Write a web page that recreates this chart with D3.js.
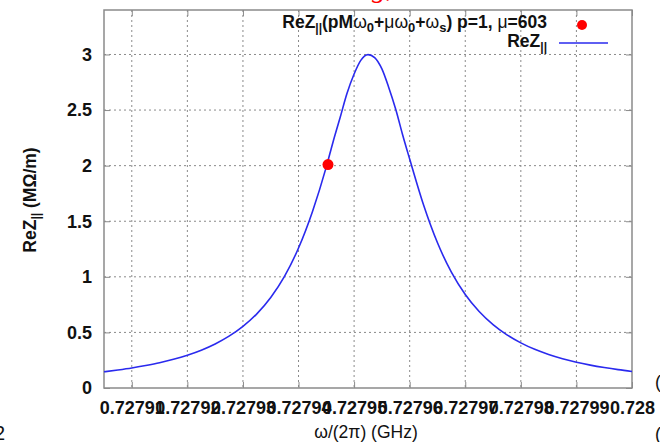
<html>
<head>
<script src="https://d3js.org/d3.v7.min.js"></script>
<style>
body { margin: 0; background: #fff; }
text { font-family: "Liberation Sans", Arial, sans-serif; }
.grid line { stroke: #8a8a8a; stroke-width: 1; stroke-dasharray: 2,3; }
</style>
</head>
<body>
<svg id="chart" width="660" height="442"></svg>
<script>
// values
const freqs = [0.727905, 0.7279075, 0.72791, 0.7279125, 0.727915, 0.7279175, 0.72792, 0.7279225,
  0.727925, 0.7279275, 0.72793, 0.7279325, 0.727935, 0.7279375, 0.72794, 0.7279425, 0.727945,
  0.7279462, 0.7279475, 0.7279487, 0.72795, 0.7279512, 0.7279525, 0.7279537, 0.727955, 0.7279562,
  0.7279575, 0.7279587, 0.72796, 0.7279625, 0.727965, 0.7279675, 0.72797, 0.7279725, 0.727975,
  0.7279775, 0.72798, 0.7279825, 0.727985, 0.7279875, 0.72799, 0.7279925, 0.727995, 0.7279975, 0.728];
const reZ = [0.146, 0.162, 0.180, 0.202, 0.227, 0.258, 0.295, 0.340,
  0.396, 0.466, 0.554, 0.667, 0.814, 1.006, 1.259, 1.586, 1.989,
  2.211, 2.435, 2.646, 2.824, 2.947, 2.999, 2.972, 2.870, 2.708,
  2.505, 2.283, 2.059, 1.646, 1.306, 1.042, 0.841, 0.688, 0.570,
  0.478, 0.406, 0.348, 0.302, 0.264, 0.232, 0.206, 0.184, 0.165, 0.149];
const pointFreq = [0.7279453];
const pointReZ = [2.01];

const xTicks = [0.72791, 0.72792, 0.72793, 0.72794, 0.72795, 0.72796, 0.72797, 0.72798, 0.72799, 0.728];
const xTickLabels = ["0.72791", "0.72792", "0.72793", "0.72794", "0.72795", "0.72796", "0.72797", "0.72798", "0.72799", "0.728"];
const yTicks = [0, 0.5, 1, 1.5, 2, 2.5, 3];
const yTickLabels = ["0", "0.5", "1", "1.5", "2", "2.5", "3"];

const svg = d3.select("#chart");
const margin = {top: 10, right: 28, bottom: 54, left: 104};
const width = 660 - margin.left - margin.right;
const height = 442 - margin.top - margin.bottom;

const x = d3.scaleLinear().domain([0.727905, 0.728]).range([0, width]);
const y = d3.scaleLinear().domain([0, 3.4]).range([height, 0]);

const g = svg.append("g").attr("transform", `translate(${margin.left},${margin.top})`);

// gridlines
g.append("g").attr("class", "grid")
  .selectAll("line").data(xTicks.filter(d => d < 0.728)).join("line")
  .attr("x1", d => x(d)).attr("x2", d => x(d))
  .attr("y1", 0).attr("y2", height);
g.append("g").attr("class", "grid")
  .selectAll("line").data(yTicks.filter(d => d > 0)).join("line")
  .attr("x1", 0).attr("x2", width)
  .attr("y1", d => y(d)).attr("y2", d => y(d));

// axes: inward ticks, mirrored
const tickColor = "#8a8a8a";
const bottomAxis = d3.axisBottom(x).tickValues(xTicks).tickSize(-6).tickFormat((d, i) => xTickLabels[i]);
const topAxis = d3.axisTop(x).tickValues(xTicks).tickSize(-6).tickFormat("");
const leftAxis = d3.axisLeft(y).tickValues(yTicks).tickSize(-6).tickFormat((d, i) => yTickLabels[i]);
const rightAxis = d3.axisRight(y).tickValues(yTicks).tickSize(-6).tickFormat("");

const bx = g.append("g").attr("transform", `translate(0,${height})`).call(bottomAxis);
const tx = g.append("g").call(topAxis);
const ly = g.append("g").call(leftAxis);
const ry = g.append("g").attr("transform", `translate(${width},0)`).call(rightAxis);
[bx, tx, ly, ry].forEach(a => {
  a.select(".domain").remove();
  a.selectAll(".tick line").attr("stroke", tickColor);
});
bx.selectAll(".tick text")
  .attr("y", 26).attr("dy", 0)
  .style("font-family", "Liberation Sans, Arial, sans-serif")
  .style("font-size", "18px").style("font-weight", "bold").attr("fill", "#111");
ly.selectAll(".tick text")
  .attr("x", -12)
  .style("font-family", "Liberation Sans, Arial, sans-serif")
  .style("font-size", "18px").style("font-weight", "bold").attr("fill", "#111");

// frame
g.append("rect").attr("width", width).attr("height", height)
  .attr("fill", "none").attr("stroke", "#8a8a8a").attr("stroke-width", 1.5);

// curve
const line = d3.line().x((d, i) => x(freqs[i])).y(d => y(d)).curve(d3.curveMonotoneX);
g.append("path").datum(reZ)
  .attr("d", line).attr("fill", "none")
  .attr("stroke", "#2a2aee").attr("stroke-width", 1.6);

// marked point
g.selectAll("circle.pt").data(pointReZ).join("circle")
  .attr("class", "pt")
  .attr("cx", (d, i) => x(pointFreq[i])).attr("cy", d => y(d))
  .attr("r", 5.5).attr("fill", "#ff0000");

// legend
const leg = svg.append("g");
const t1 = leg.append("text").attr("x", 547).attr("y", 28).attr("text-anchor", "end")
  .style("font-size", "17.5px").style("font-weight", "bold").attr("fill", "#111");
t1.append("tspan").text("ReZ");
t1.append("tspan").attr("dy", 4).style("font-size", "12px").text("||");
t1.append("tspan").attr("dy", -4).text("(pM");
t1.append("tspan").style("font-weight", "normal").text("ω");
t1.append("tspan").attr("dy", 4).style("font-size", "13px").text("0");
t1.append("tspan").attr("dy", -4).text("+");
t1.append("tspan").style("font-weight", "normal").text("μω");
t1.append("tspan").attr("dy", 4).style("font-size", "13px").text("0");
t1.append("tspan").attr("dy", -4).text("+");
t1.append("tspan").style("font-weight", "normal").text("ω");
t1.append("tspan").attr("dy", 4).style("font-size", "13px").text("s");
t1.append("tspan").attr("dy", -4).text(") p=1, ");
t1.append("tspan").style("font-weight", "normal").text("μ");
t1.append("tspan").text("=603");
leg.append("circle").attr("cx", 582).attr("cy", 25).attr("r", 5).attr("fill", "#ff0000");

const t2 = leg.append("text").attr("x", 547).attr("y", 47).attr("text-anchor", "end")
  .style("font-size", "17.5px").style("font-weight", "bold").attr("fill", "#111");
t2.append("tspan").text("ReZ");
t2.append("tspan").attr("dy", 4).style("font-size", "12px").text("||");
leg.append("line").attr("x1", 559).attr("x2", 608).attr("y1", 43).attr("y2", 43)
  .attr("stroke", "#2a2aee").attr("stroke-width", 1.6);

// axis titles
const yt = svg.append("text")
  .attr("transform", "translate(36,200) rotate(-90)")
  .attr("text-anchor", "middle")
  .style("font-size", "17.5px").style("font-weight", "bold").attr("fill", "#111");
yt.append("tspan").text("ReZ");
yt.append("tspan").attr("dy", 4).style("font-size", "12px").text("||");
yt.append("tspan").attr("dy", -4).text(" (MΩ/m)");

svg.append("text").attr("x", 366).attr("y", 438).attr("text-anchor", "middle")
  .style("font-size", "17.5px").attr("fill", "#111")
  .text("ω/(2π) (GHz)");

// cropped fragments of the surrounding page
svg.append("text").attr("x", 372).attr("y", -3)
  .style("font-family", "Liberation Serif, serif").style("font-style", "italic")
  .style("font-size", "28px").attr("fill", "#ff0000").text("g,");
svg.append("text").attr("x", -6).attr("y", 440)
  .style("font-size", "20px").attr("fill", "#111").text("2");
svg.append("text").attr("x", 655).attr("y", 388)
  .style("font-size", "18px").attr("fill", "#111").text("(");
svg.append("text").attr("x", 655).attr("y", 440)
  .style("font-size", "18px").attr("fill", "#111").text("(");
</script>
</body>
</html>
